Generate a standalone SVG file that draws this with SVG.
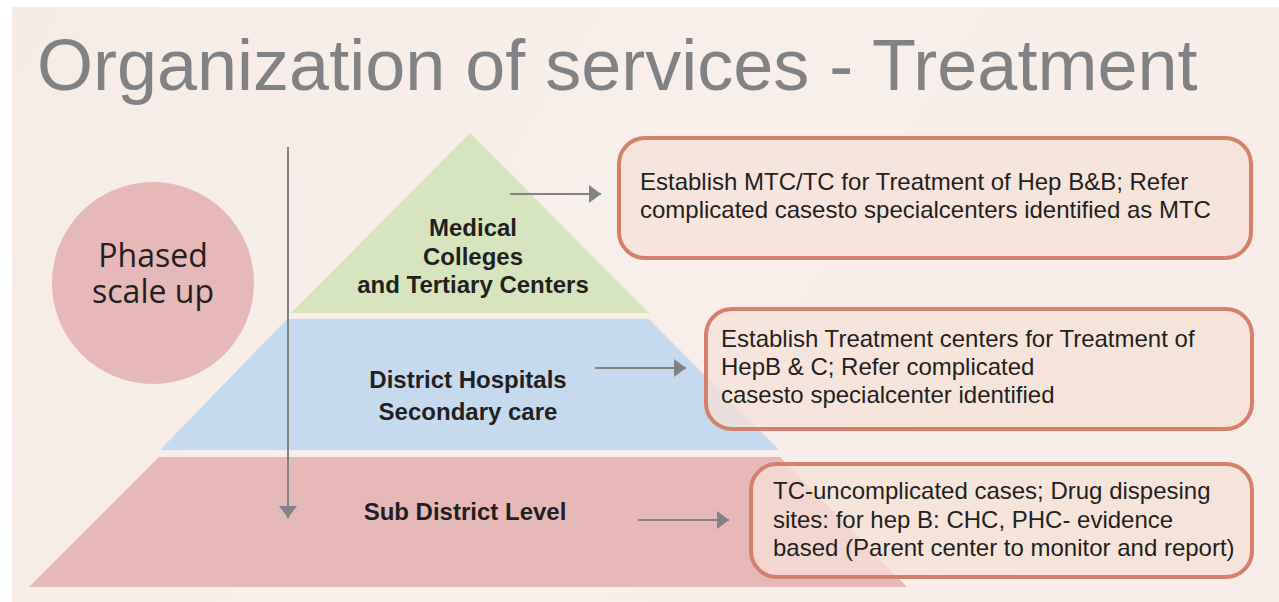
<svg xmlns="http://www.w3.org/2000/svg" width="1279" height="602" viewBox="0 0 1279 602">
  <defs>
    <linearGradient id="bg" x1="0" y1="0" x2="1" y2="0.3">
      <stop offset="0" stop-color="#f6ebe5"/>
      <stop offset="0.5" stop-color="#f9efea"/>
      <stop offset="1" stop-color="#f8ede8"/>
    </linearGradient>
    <marker id="ah" viewBox="0 0 12 18" refX="12" refY="9" markerWidth="12" markerHeight="18" markerUnits="userSpaceOnUse" orient="auto">
      <path d="M0,0 L12,9 L0,18 Z" fill="#808285"/>
    </marker>
    <style>
      .title { font-family: "Liberation Sans", Arial, sans-serif; font-size: 72px; fill: #808285; }
      .lvl { font-family: "Liberation Sans", Arial, sans-serif; font-size: 24px; font-weight: bold; fill: #231f20; text-anchor: middle; }
      .box { fill: #f5e0d7; fill-opacity: 0.75; stroke: #d3806c; stroke-width: 4; }
      .bt { font-family: "Liberation Sans", Arial, sans-serif; font-size: 24px; fill: #231f20; }
      .ph { font-family: "Open Sans", "Noto Sans", sans-serif; font-size: 32px; fill: #231f20; text-anchor: middle; }
      .conn { stroke: #808285; stroke-width: 2; fill: none; }
    </style>
  </defs>
  <rect x="0" y="0" width="1279" height="602" fill="#ffffff"/>
  <rect x="12" y="7" width="1267" height="595" fill="url(#bg)"/>

  <text class="title" x="37" y="90">Organization of services - Treatment</text>

  <g id="phased">
    <circle cx="153" cy="283" r="101" fill="#e6b8b8"/>
    <text class="ph" x="153" y="267">Phased</text>
    <text class="ph" x="153" y="303">scale up</text>
  </g>

  <g id="level-top">
    <polygon points="470,133 649,313 291,313" fill="#d6e5bd"/>
    <text class="lvl" x="473" y="236">Medical</text>
    <text class="lvl" x="473" y="265">Colleges</text>
    <text class="lvl" x="473" y="293">and Tertiary Centers</text>
  </g>

  <g id="level-mid">
    <polygon points="287,319 649,319 779,450 160,450" fill="#c5daef"/>
    <text class="lvl" x="468" y="388">District Hospitals</text>
    <text class="lvl" x="468" y="420">Secondary care</text>
  </g>

  <g id="level-bottom">
    <polygon points="159,457 780,457 907,587 29,587" fill="#e6b8b8"/>
    <text class="lvl" x="465" y="520">Sub District Level</text>
  </g>

  <g id="box-top">
    <rect class="box" x="619" y="138" width="632" height="120" rx="26"/>
    <text class="bt" x="640" y="190">Establish MTC/TC for Treatment of Hep B&amp;B; Refer</text>
    <text class="bt" x="640" y="218">complicated casesto specialcenters identified as MTC</text>
  </g>

  <g id="box-mid">
    <rect class="box" x="706" y="309" width="546" height="120" rx="26"/>
    <text class="bt" x="721" y="347">Establish Treatment centers for Treatment of</text>
    <text class="bt" x="721" y="375">HepB &amp; C; Refer complicated</text>
    <text class="bt" x="721" y="403">casesto specialcenter identified</text>
  </g>

  <g id="box-bottom">
    <rect class="box" x="751" y="464" width="501" height="113" rx="26"/>
    <text class="bt" x="773" y="499">TC-uncomplicated cases; Drug dispesing</text>
    <text class="bt" x="773" y="528">sites: for hep B: CHC, PHC- evidence</text>
    <text class="bt" x="773" y="556">based (Parent center to monitor and report)</text>
  </g>

  <g id="connectors">
    <line class="conn" x1="288" y1="147" x2="288" y2="518" marker-end="url(#ah)"/>
    <line class="conn" x1="510" y1="194" x2="601" y2="194" marker-end="url(#ah)"/>
    <line class="conn" x1="595" y1="368" x2="686" y2="368" marker-end="url(#ah)"/>
    <line class="conn" x1="638" y1="520" x2="729" y2="520" marker-end="url(#ah)"/>
  </g>
</svg>
